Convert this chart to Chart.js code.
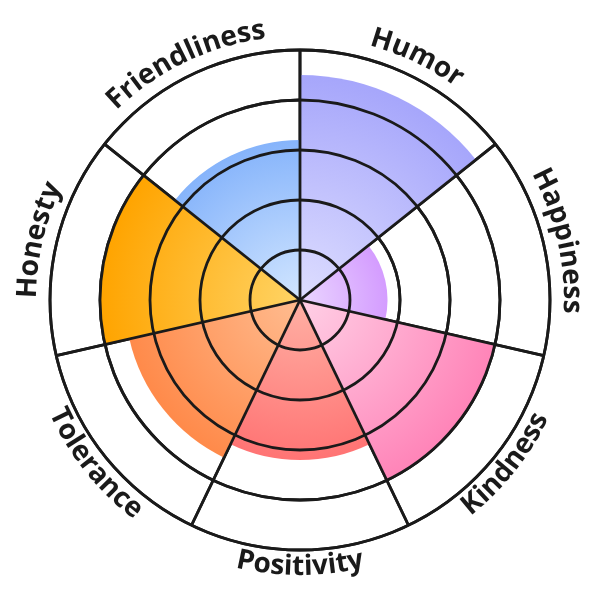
<!DOCTYPE html>
<html>
<head>
<meta charset="utf-8">
<script src="https://cdn.jsdelivr.net/npm/chart.js@4/dist/chart.umd.min.js"></script>
<style>
  html, body { margin: 0; padding: 0; background: #fff; }
  #wrap { width: 600px; height: 600px; }
</style>
</head>
<body>
<div id="wrap"><canvas id="traits"></canvas></div>
<script>
const traits = ['Humor', 'Happiness', 'Kindness', 'Positivity', 'Tolerance', 'Honesty', 'Friendliness'];
const scores = [4.5, 1.75, 4, 3.2, 3.5, 4, 3.2];
const innerColors = ['#dedeff', '#ead6ff', '#ffd0e6', '#ffb0a4', '#ffbc90', '#ffd465', '#d2e6ff'];
const outerColors = ['#a6a6fb', '#d49cff', '#ff84b8', '#ff7474', '#ff8a4a', '#ffa400', '#86b4fb'];
const maxScore = 5;

// radial gradient per slice, light in the middle, full colour at the slice edge
function sliceFill(ctx) {
    const chart = ctx.chart;
    const scale = chart.scales.r;
    if (!chart.chartArea || !scale) return outerColors[ctx.dataIndex];
    const r = scale.getDistanceFromCenterForValue(scores[ctx.dataIndex]);
    const g = chart.ctx.createRadialGradient(scale.xCenter, scale.yCenter, 0, scale.xCenter, scale.yCenter, Math.max(r, 1));
    g.addColorStop(0, innerColors[ctx.dataIndex]);
    g.addColorStop(1, outerColors[ctx.dataIndex]);
    return g;
}

// grid rings and spokes go on top of the slices
const gridOnTop = {
    id: 'gridOnTop',
    afterDatasetsDraw(chart) {
        chart.scales.r.drawGrid(chart.chartArea);
    }
};

// labels bent round the outer ring
const curvedLabels = {
    id: 'curvedLabels',
    afterDraw(chart) {
        const scale = chart.scales.r;
        const c = chart.ctx;
        const n = traits.length;
        c.save();
        c.font = 'bold 28px "Open Sans"';
        c.fillStyle = '#1a1a1a';
        c.textAlign = 'center';
        c.textBaseline = 'alphabetic';
        traits.forEach((label, i) => {
            const mid = scale.getIndexAngle(i) + Math.PI / n - Math.PI / 2;
            const deg = (i + 0.5) * 360 / n;
            const flip = deg > 90 && deg < 270;
            const r = flip ? 275 : 264;
            const total = c.measureText(label).width;
            const span = total / r;
            for (let k = 0; k < label.length; k++) {
                const before = c.measureText(label.substring(0, k)).width;
                const cw = c.measureText(label[k]).width;
                const off = (before + cw / 2) / r;
                const a = flip ? mid + span / 2 - off : mid - span / 2 + off;
                c.save();
                c.translate(scale.xCenter + r * Math.cos(a), scale.yCenter + r * Math.sin(a));
                c.rotate(flip ? a - Math.PI / 2 : a + Math.PI / 2);
                c.fillText(label[k], 0, 0);
                c.restore();
            }
        });
        c.restore();
    }
};

new Chart(document.getElementById('traits'), {
    type: 'polarArea',
    data: {
        labels: traits,
        datasets: [{
            data: scores,
            backgroundColor: sliceFill,
            borderWidth: 0
        }]
    },
    options: {
        responsive: true,
        maintainAspectRatio: false,
        animation: false,
        layout: { padding: 50 },
        plugins: {
            legend: { display: false },
            tooltip: { enabled: false }
        },
        scales: {
            r: {
                min: 0,
                max: maxScore,
                ticks: { display: false, stepSize: 1 },
                grid: { color: '#1a1a1a', lineWidth: 2.8, circular: true },
                angleLines: { display: true, color: '#1a1a1a', lineWidth: 2.8 },
                pointLabels: { display: false }
            }
        }
    },
    plugins: [gridOnTop, curvedLabels]
});
</script>
</body>
</html>
